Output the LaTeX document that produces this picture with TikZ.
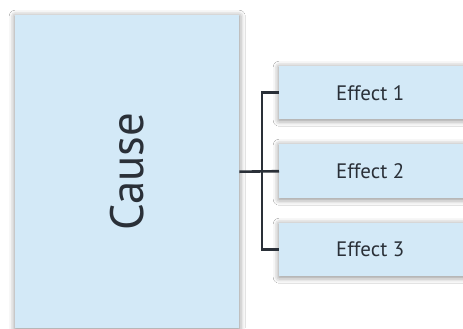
\documentclass[tikz,border=0pt]{standalone}
\usepackage{fontspec}
\setmainfont{PT Sans}
\usetikzlibrary{shadows.blur}
\definecolor{boxblue}{HTML}{D3E9F7}
\definecolor{txt}{HTML}{2A3038}
\begin{document}
\begin{tikzpicture}[x=1bp,y=-1bp,
  boxstyle/.style={fill=boxblue,draw=none,inner sep=0pt,
    blur shadow={shadow xshift=0bp,shadow yshift=-1bp,shadow blur radius=6bp,shadow opacity=50}},
  efx/.style={boxstyle,minimum width=190bp,anchor=north west,font=\fontsize{21}{24}\selectfont,text=txt},
  conn/.style={draw=txt,line width=2.6bp}]
\useasboundingbox[fill=white] (0,0) rectangle (463,328);
\node[boxstyle,minimum width=224bp,minimum height=313bp,anchor=north west] (cause) at (15,15) {};
\node[rotate=90,font=\fontsize{47}{50}\selectfont,text=txt] at (cause.center) {Cause};
\node[efx,minimum height=53bp] (e1) at (279,66) {\hspace*{-8bp}Effect 1};
\node[efx,minimum height=54bp] (e2) at (279,144) {\hspace*{-8bp}Effect 2};
\node[efx,minimum height=53bp] (e3) at (279,223) {\hspace*{-8bp}Effect 3};
\coordinate (bj) at (262,0);
\draw[conn] (cause.east) -- (e2.west);
\draw[conn] (e1.west) -| (bj |- e3.west) -- (e3.west);
\end{tikzpicture}
\end{document}
